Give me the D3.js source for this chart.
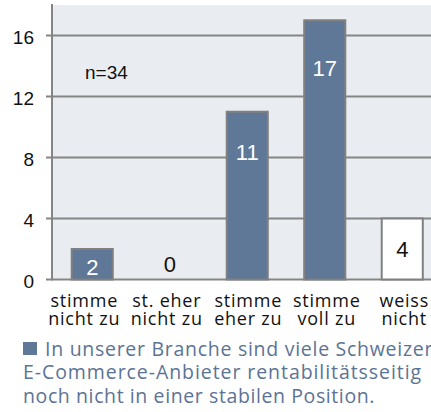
<!DOCTYPE html>
<html><head><meta charset="utf-8">
<script src="https://cdn.jsdelivr.net/npm/d3@7"></script>
<style>html,body{margin:0;padding:0;background:#fff;overflow:hidden}</style>
</head><body>
<svg id="c" width="431" height="412"></svg>
<script>
const categories = [["stimme","nicht zu"],["st. eher","nicht zu"],["stimme","eher zu"],["stimme","voll zu"],["weiss","nicht"]];
const values = [2, 0, 11, 17, 4];
const barKinds = ["answer","answer","answer","answer","unknown"];
const yTicks = [0, 4, 8, 12, 16];
const note = "n=34";
const legendLines = ["In unserer Branche  sind viele Schweizer","E-Commerce-Anbieter rentabilitätsseitig","noch nicht in einer stabilen Position."];

(function () {
const svg = d3.select("#c");
const pL = 52, pT = 5, pB = 279.5, pR = 431;
const x = d3.scaleBand().domain(d3.range(values.length)).range([53.5, 441]).paddingInner(0.47).paddingOuter(0.235);
const y = d3.scaleLinear().domain([0, 18]).range([pB, pT]);

svg.append("rect").attr("x", pL).attr("y", pT).attr("width", pR - pL).attr("height", pB - pT).attr("fill", "#e9edf1");

svg.append("g").selectAll("line").data(yTicks).join("line")
  .attr("x1", pL - 6).attr("x2", pR).attr("y1", d => y(d)).attr("y2", d => y(d))
  .attr("stroke", "#858585").attr("stroke-width", 2);

const yAxis = d3.axisLeft(y).tickValues(yTicks).tickSize(0).tickPadding(0);
const ga = svg.append("g").attr("transform", `translate(${pL},0)`).call(yAxis);
ga.select(".domain").remove();
ga.selectAll("text").attr("x", -18).attr("dy", "0.4em")
  .attr("font-family", "Liberation Sans, Arial, sans-serif").attr("font-size", 19).attr("fill", "#111");
svg.append("line").attr("x1", pL).attr("x2", pL).attr("y1", pT - 1).attr("y2", pB + 1)
  .attr("stroke", "#858585").attr("stroke-width", 2);

svg.append("g").selectAll("rect").data(values).join("rect")
  .attr("x", (d, i) => x(i)).attr("width", x.bandwidth())
  .attr("y", d => y(d)).attr("height", d => y(0) - y(d))
  .attr("fill", (d, i) => barKinds[i] === "unknown" ? "#ffffff" : "#5f7898")
  .attr("stroke", "#808080").attr("stroke-width", 2)
  .attr("display", d => d > 0 ? null : "none");

const labelOffsets = [18, -15, 40, 48, 31];
svg.append("g").selectAll("text").data(values).join("text")
  .attr("x", (d, i) => x(i) + x.bandwidth() / 2)
  .attr("y", (d, i) => labelOffsets[i] < 0 ? y(0) + labelOffsets[i] : y(d) + labelOffsets[i])
  .attr("dy", "0.36em").attr("text-anchor", "middle")
  .attr("font-family", "Liberation Sans, Arial, sans-serif").attr("font-size", 22)
  .attr("fill", (d, i) => (d > 0 && barKinds[i] !== "unknown") ? "#ffffff" : "#111")
  .text(d => d);

svg.append("text").attr("x", 85).attr("y", 72).attr("dy", "0.36em")
  .attr("font-family", "Liberation Sans, Arial, sans-serif").attr("font-size", 19).attr("fill", "#111").text(note);

// category labels
const nudges = [-8, -3, 1, 2, 2];
const cg = svg.append("g").attr("font-family", "Open Sans, sans-serif").attr("font-size", 18).attr("fill", "#111").attr("text-anchor", "middle");
categories.forEach((c, i) => {
  c.forEach((line, j) => {
    cg.append("text").attr("x", x(i) + x.bandwidth() / 2 + nudges[i]).attr("y", 307 + j * 17.5).text(line);
  });
});
const probe = cg.select("text:nth-child(2)");
const w0 = probe.node().getComputedTextLength();
cg.attr("letter-spacing", ((72 - w0) / 8).toFixed(2));

// legend
svg.append("rect").attr("x", 23).attr("y", 342).attr("width", 14).attr("height", 13).attr("fill", "#5f7898");
const lg = svg.append("g").attr("font-family", "Open Sans, sans-serif").attr("font-size", 19.5).attr("fill", "#5b7394");
const targets = [389, 399, 352];
legendLines.forEach((t, i) => {
  const el = lg.append("text").attr("x", i === 0 ? 45 : 23).attr("y", 356 + i * 23.3).text(t);
  const w = el.node().getComputedTextLength();
  el.attr("letter-spacing", ((targets[i] - w) / t.length).toFixed(2));
});
})();
</script>
</body></html>
